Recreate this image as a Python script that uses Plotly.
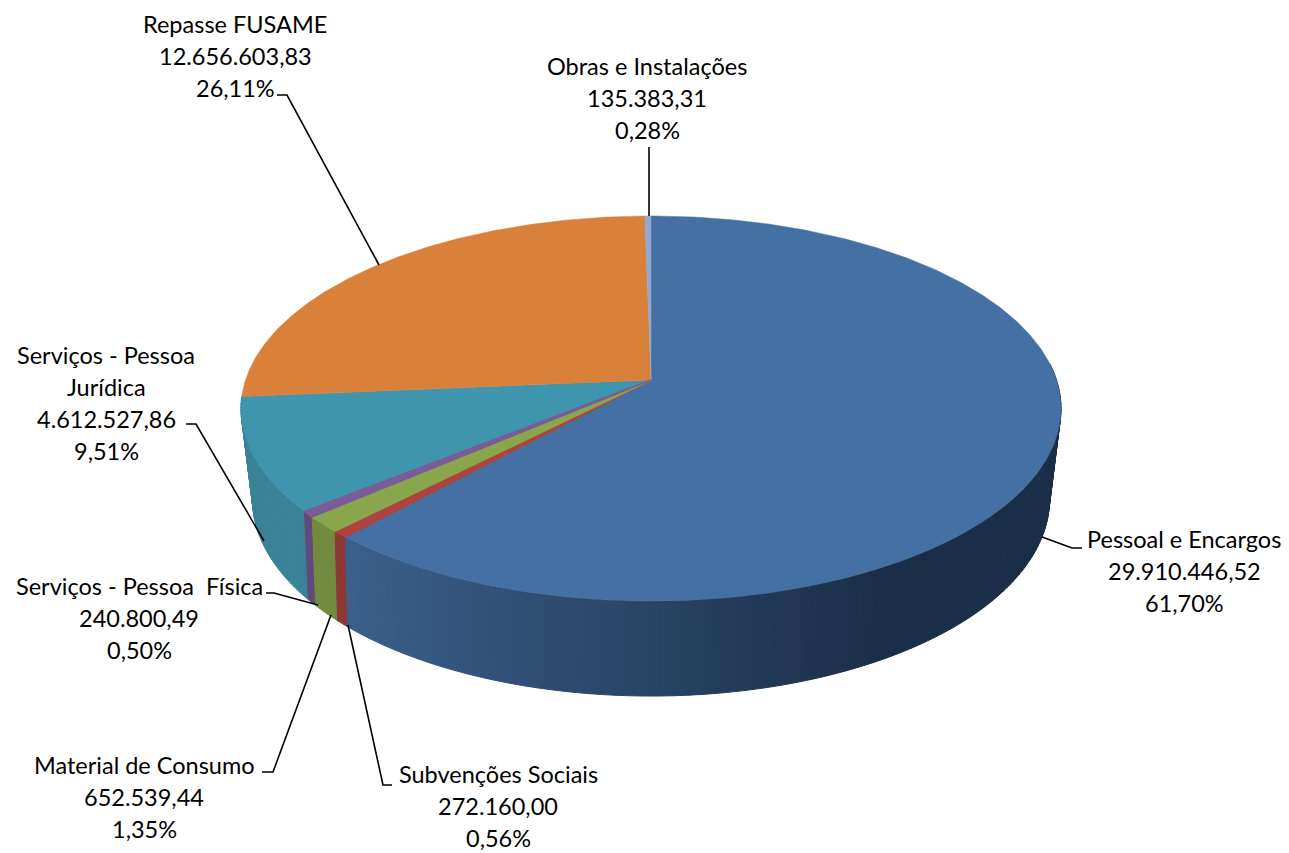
import math
import numpy as np
import plotly.graph_objects as go

categories = ["Pessoal e Encargos", "Subvenções Sociais", "Material de Consumo",
              "Serviços - Pessoa  Física", "Serviços - Pessoa<br>Jurídica",
              "Repasse FUSAME", "Obras e Instalações"]
values = [29910446.52, 272160.00, 652539.44, 240800.49, 4612527.86, 12656603.83, 135383.31]
percent_labels = ["61,70%", "0,56%", "1,35%", "0,50%", "9,51%", "26,11%", "0,28%"]

top_colors = ["#4470A4", "#AE4340", "#8AA64C", "#7A5C98", "#3F95AE", "#D9813B", "#93A9CF"]
wall_colors = [("#3A5F8A", "#1B2E47"), ("#8C3836", "#8C3836"), ("#738B40", "#738B40"),
               ("#5F4A7C", "#5F4A7C"), ("#3A8298", "#3C8499"), None, None]

label_centers = [(1184, 539), (498, 774), (144, 765), (139, 586), (106, 355), (235, 24), (647, 66)]
leaders = [
    [(1042, 537), (1072, 548), (1082, 548)],
    [(392, 785), (383, 785), (348, 625)],
    [(262, 772), (273, 772), (331, 615)],
    [(266, 593), (274, 593), (318, 605)],
    [(186, 424), (196, 424), (264, 541)],
    [(277, 95), (287, 95), (379, 265)],
    [(649, 147), (649, 216)],
]
FONT = "Lato"
FONT_SIZE = 23.5
LINE = 32


def top_point(theta):
    u, v = math.sin(theta), math.cos(theta)
    d = 1 + 0.148 * v
    return 651 + 405.5 * u / d, 380 - 188.3 * v / d


def bottom_point(theta):
    u, v = math.sin(theta), math.cos(theta)
    d = 1 + 0.18 * v
    return 651 + 392 * u / d, 463.6 - 190.6 * v / d


def mix(c1, c2, f):
    a = [int(c1[i:i + 2], 16) for i in (1, 3, 5)]
    b = [int(c2[i:i + 2], 16) for i in (1, 3, 5)]
    return "#%02X%02X%02X" % tuple(round(p + (q - p) * f) for p, q in zip(a, b))


total = sum(values)
edges = np.cumsum([0] + values) / total * 2 * math.pi

fig = go.Figure()

# side walls
for i in [4, 3, 2, 1, 0]:
    start = edges[i]
    end = edges[i + 1]
    if i == 0:
        start = math.radians(85)
    n = max(2, int(math.degrees(end - start)) + 1)
    ts = np.linspace(start, end, n + 1)
    pairs = list(zip(ts[:-1], ts[1:]))
    if i == 0:
        pairs = pairs[::-1]
    for a, b in pairs:
        p = [top_point(a), top_point(b), bottom_point(b), bottom_point(a), top_point(a)]
        xm = sum(q[0] for q in p[:4]) / 4
        f = min(max((xm - 350) / 530, 0), 1)
        col = mix(wall_colors[i][0], wall_colors[i][1], f)
        fig.add_trace(go.Scatter(x=[q[0] for q in p], y=[q[1] for q in p], mode="lines",
                                 fill="toself", fillcolor=col, line=dict(color=col, width=1),
                                 hoverinfo="skip", showlegend=False))

# top faces: the large slices first, the narrow ones over them
for i in [0, 4, 5, 6, 1, 2, 3]:
    name = categories[i]
    n = max(3, int(math.degrees(edges[i + 1] - edges[i]) * 2))
    ts = np.linspace(edges[i], edges[i + 1], n + 1)
    pts = [top_point(t) for t in ts]
    cx, cy = top_point(0)[0], 380
    xs = [cx] + [q[0] for q in pts] + [cx]
    ys = [cy] + [q[1] for q in pts] + [cy]
    width = 1.5 if i in (1, 2, 3) else 0.5
    fig.add_trace(go.Scatter(x=xs, y=ys, mode="lines", fill="toself", fillcolor=top_colors[i],
                             line=dict(color=top_colors[i], width=width), name=name.replace("<br>", " "),
                             hoverinfo="name", showlegend=False))

# leaders
for pts in leaders:
    fig.add_trace(go.Scatter(x=[q[0] for q in pts], y=[q[1] for q in pts], mode="lines",
                             line=dict(color="#000000", width=1.6), hoverinfo="skip", showlegend=False))


def fmt(v):
    return f"{v:,.2f}".replace(",", "X").replace(".", ",").replace("X", ".")


annotations = []
for name, v, pct, (cx, y0) in zip(categories, values, percent_labels, label_centers):
    lines = name.split("<br>") + [fmt(v), pct]
    for k, line in enumerate(lines):
        annotations.append(dict(x=cx, y=y0 + k * LINE, text=line, showarrow=False, xanchor="center",
                                yanchor="middle", font=dict(family=FONT, size=FONT_SIZE, color="#000000")))

fig.update_layout(
    width=1289, height=853, margin=dict(l=0, r=0, t=0, b=0),
    paper_bgcolor="#FFFFFF", plot_bgcolor="#FFFFFF", showlegend=False,
    xaxis=dict(range=[0, 1289], visible=False, fixedrange=True),
    yaxis=dict(range=[853, 0], visible=False, fixedrange=True),
    annotations=annotations,
)

fig.write_html("out.html", config={"displayModeBar": False},
               post_script="document.body.style.margin='0';document.body.style.overflow='hidden';")
